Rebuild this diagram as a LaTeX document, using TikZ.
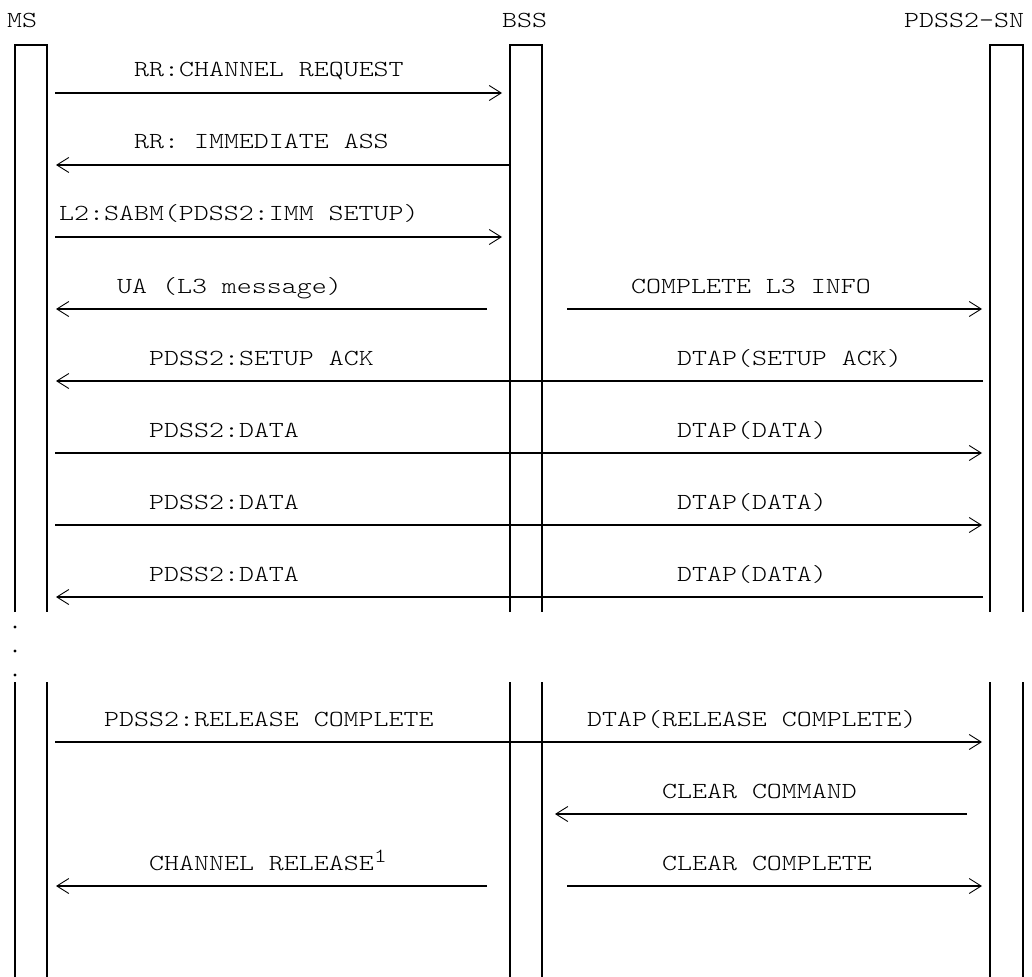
\documentclass[tikz,border=0pt]{standalone}
\usepackage{fontspec}
\setmonofont{lmmonolt10-regular}[Extension=.otf,FakeStretch=1.24]
\usetikzlibrary{arrows.meta}

\begin{document}
\begin{tikzpicture}[
x=1pt,y=-1pt,
every node/.style={font=\ttfamily\fontsize{23}{28}\selectfont,inner sep=0pt},
lbl/.style={anchor=base west},
life/.style={line width=1.5pt},
msg/.style={line width=1.5pt,-{Straight Barb[length=12pt,width=15pt,line width=0.9pt]}}
]
\useasboundingbox (0,0) rectangle (1032,976);

% entities
\node[lbl](ms) at (7,28){MS};
\node[lbl](bss) at (502,28){BSS};
\node[lbl](sn) at (904,28){PDSS2-SN};
\coordinate (ms-l) at (15,45);
\coordinate (ms-r) at (47,45);
\coordinate (bss-l) at (510,45);
\coordinate (bss-r) at (542,45);
\coordinate (sn-l) at (990,45);
\coordinate (sn-r) at (1023,45);

% lifelines, broken where the dots are
\foreach \l in {ms,bss,sn}{
	\draw[life] (\l-l |- 0,612) -- (\l-l) -- (\l-r) -- (\l-r |- 0,612);
	\draw[life] (\l-l |- 0,682) -- (\l-l |- 0,980);
	\draw[life] (\l-r |- 0,682) -- (\l-r |- 0,980);
}
\foreach \y in {627,651,675}
	\fill (15,\y) circle[radius=1.6pt];

% message rows
\foreach \n/\y in {1/93,2/165,3/237,4/309,5/381,6/453,7/525,8/597,9/742,10/814,11/886}
	\coordinate (r\n) at (0,\y);

% setup
\node[lbl](l1) at (134,77){RR:CHANNEL REQUEST};
\draw[msg,shorten <=8pt,shorten >=8pt] (ms-r |- r1) -- (bss-l |- r1);
\node[lbl](l2) at (134,149){RR: IMMEDIATE ASS};
\draw[msg,shorten >=9pt] (bss-l |- r2) -- (ms-r |- r2);
\node[lbl](l3) at (59,221){L2:SABM(PDSS2:IMM SETUP)};
\draw[msg,shorten <=8pt,shorten >=8pt] (ms-r |- r3) -- (bss-l |- r3);
\node[lbl](l4a) at (117,293){UA (L3 message)};
\draw[msg,shorten <=23pt,shorten >=9pt] (bss-l |- r4) -- (ms-r |- r4);
\node[lbl](l4b) at (631,293){COMPLETE L3 INFO};
\draw[msg,shorten <=25pt,shorten >=8pt] (bss-r |- r4) -- (sn-l |- r4);
\node[lbl](l5a) at (149,365){PDSS2:SETUP ACK};
\node[lbl](l5b) at (677,365){DTAP(SETUP ACK)};
\draw[msg,shorten <=7pt,shorten >=9pt] (sn-l |- r5) -- (ms-r |- r5);

% data
\node[lbl](l6a) at (149,437){PDSS2:DATA};
\node[lbl](l6b) at (677,437){DTAP(DATA)};
\draw[msg,shorten <=8pt,shorten >=8pt] (ms-r |- r6) -- (sn-l |- r6);
\node[lbl](l7a) at (149,509){PDSS2:DATA};
\node[lbl](l7b) at (677,509){DTAP(DATA)};
\draw[msg,shorten <=8pt,shorten >=8pt] (ms-r |- r7) -- (sn-l |- r7);
\node[lbl](l8a) at (149,581){PDSS2:DATA};
\node[lbl](l8b) at (677,581){DTAP(DATA)};
\draw[msg,shorten <=7pt,shorten >=9pt] (sn-l |- r8) -- (ms-r |- r8);

% release
\node[lbl](l9a) at (104,726){PDSS2:RELEASE COMPLETE};
\node[lbl](l9b) at (587,726){DTAP(RELEASE COMPLETE)};
\draw[msg,shorten <=8pt,shorten >=8pt] (ms-r |- r9) -- (sn-l |- r9);
\node[lbl](l10) at (662,798){CLEAR COMMAND};
\draw[msg,shorten <=23pt,shorten >=13pt] (sn-l |- r10) -- (bss-r |- r10);
\node[lbl](l11a) at (149,870){CHANNEL RELEASE\raisebox{8pt}{\ttfamily\fontsize{20}{24}\selectfont 1}};
\draw[msg,shorten <=23pt,shorten >=9pt] (bss-l |- r11) -- (ms-r |- r11);
\node[lbl](l11b) at (662,870){CLEAR COMPLETE};
\draw[msg,shorten <=25pt,shorten >=8pt] (bss-r |- r11) -- (sn-l |- r11);
\end{tikzpicture}
\end{document}
